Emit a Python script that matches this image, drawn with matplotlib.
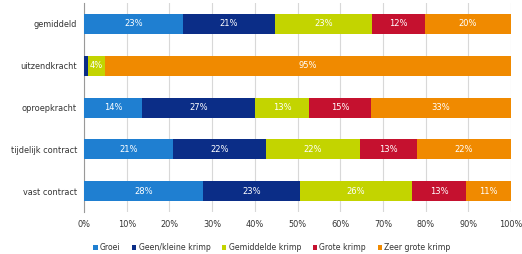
import numpy as np
import matplotlib
matplotlib.use('Agg')
import matplotlib.pyplot as plt

# categories (top to bottom)
groups = ['gemiddeld', 'uitzendkracht', 'oproepkracht', 'tijdelijk contract', 'vast contract']
series = ['Groei', 'Geen/kleine krimp', 'Gemiddelde krimp', 'Grote krimp', 'Zeer grote krimp']
colors = ['#1f7fd1', '#0b2d87', '#c3d400', '#c5112f', '#f08a00']

# bar widths (percent)
groei   = [23.2, 0.0, 13.6, 20.8, 27.8]
geen    = [21.5, 1.0, 26.4, 21.8, 22.8]
gemid   = [22.7, 3.8, 12.7, 22.0, 26.2]
grote   = [12.5, 0.0, 14.5, 13.4, 12.7]
zeer    = [20.1, 95.2, 32.8, 22.0, 10.5]
# labels printed in the bars
lab_groei = ['23%', '', '14%', '21%', '28%']
lab_geen  = ['21%', '', '27%', '22%', '23%']
lab_gemid = ['23%', '4%', '13%', '22%', '26%']
lab_grote = ['12%', '', '15%', '13%', '13%']
lab_zeer  = ['20%', '95%', '33%', '22%', '11%']

data = [groei, geen, gemid, grote, zeer]
labels = [lab_groei, lab_geen, lab_gemid, lab_grote, lab_zeer]

plt.rcParams['font.family'] = 'DejaVu Sans'
fig = plt.figure(figsize=(5.22, 2.54), dpi=100)
ax = fig.add_axes([0.161, 0.165, 0.818, 0.823])

y = np.arange(len(groups))
left = np.zeros(len(groups))
for vals, labs, c, name in zip(data, labels, colors, series):
    vals = np.array(vals)
    ax.barh(y, vals, left=left, height=0.48, color=c, label=name, zorder=3)
    for i, (v, t) in enumerate(zip(vals, labs)):
        if t:
            ax.text(left[i] + v / 2, y[i], t, color='white', fontsize=6,
                    ha='center', va='center', zorder=4)
    left = left + vals

ax.set_xlim(0, 100)
ax.set_ylim(len(groups) - 0.5, -0.5)
ax.set_yticks(y)
ax.set_yticklabels(groups, fontsize=5.9, color='#333333')
ax.set_xticks(np.arange(0, 101, 10))
ax.set_xticklabels([f'{v}%' for v in range(0, 101, 10)], fontsize=5.9, color='#333333')
ax.tick_params(axis='y', length=0, pad=5)
ax.tick_params(axis='x', length=0, pad=6)
ax.grid(axis='x', color='#d8d8d8', lw=0.8, zorder=0)
for s in ['top', 'right', 'bottom']:
    ax.spines[s].set_visible(False)
ax.spines['left'].set_color('#999999')

ax.legend(loc='upper center', bbox_to_anchor=(0.44, -0.115), ncol=5, frameon=False,
          fontsize=5.6, handlelength=0.55, handleheight=0.55, handletextpad=0.3,
          columnspacing=1.5, labelcolor='#333333')

fig.savefig('out.png', dpi=100)
